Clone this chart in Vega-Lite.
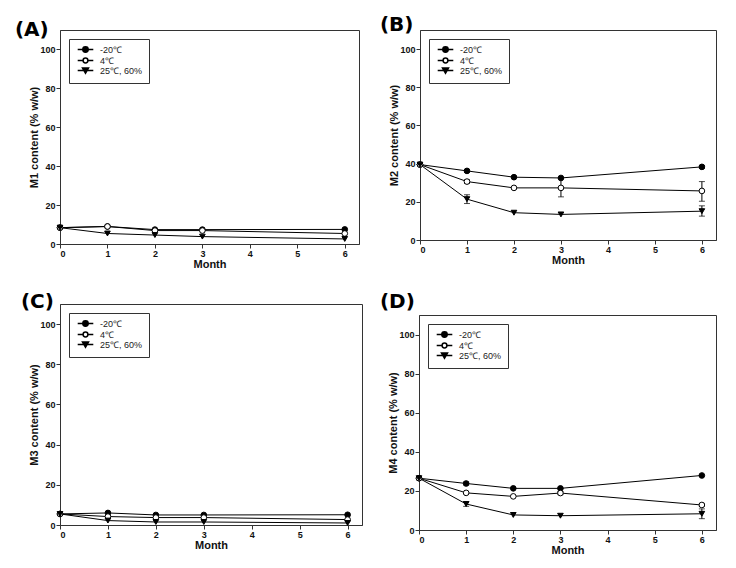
{
  "$schema": "https://vega.github.io/schema/vega-lite/v6.json",
  "padding": {"left": 14, "top": 14, "right": 4, "bottom": 4},
  "background": "white",
  "datasets": {
    "d": [
      {"panel": "A", "cond": "-20℃", "month": 0, "value": 8.4},
      {"panel": "A", "cond": "-20℃", "month": 1, "value": 9.0},
      {"panel": "A", "cond": "-20℃", "month": 2, "value": 7.4},
      {"panel": "A", "cond": "-20℃", "month": 3, "value": 7.4},
      {"panel": "A", "cond": "-20℃", "month": 6, "value": 7.5},
      {"panel": "A", "cond": "4℃", "month": 0, "value": 8.4},
      {"panel": "A", "cond": "4℃", "month": 1, "value": 9.0},
      {"panel": "A", "cond": "4℃", "month": 2, "value": 6.9},
      {"panel": "A", "cond": "4℃", "month": 3, "value": 6.9},
      {"panel": "A", "cond": "4℃", "month": 6, "value": 5.4},
      {"panel": "A", "cond": "25℃, 60%", "month": 0, "value": 8.4},
      {"panel": "A", "cond": "25℃, 60%", "month": 1, "value": 5.4},
      {"panel": "A", "cond": "25℃, 60%", "month": 2, "value": 4.6},
      {"panel": "A", "cond": "25℃, 60%", "month": 3, "value": 3.8},
      {"panel": "A", "cond": "25℃, 60%", "month": 6, "value": 2.6},
      {"panel": "B", "cond": "-20℃", "month": 0, "value": 39.5},
      {"panel": "B", "cond": "-20℃", "month": 1, "value": 36.2, "lo": 35.5, "hi": 36.9},
      {"panel": "B", "cond": "-20℃", "month": 2, "value": 32.9},
      {"panel": "B", "cond": "-20℃", "month": 3, "value": 32.5},
      {"panel": "B", "cond": "-20℃", "month": 6, "value": 38.3, "lo": 37.6, "hi": 39.0},
      {"panel": "B", "cond": "4℃", "month": 0, "value": 39.5},
      {"panel": "B", "cond": "4℃", "month": 1, "value": 30.6, "lo": 29.6, "hi": 31.6},
      {"panel": "B", "cond": "4℃", "month": 2, "value": 27.3},
      {"panel": "B", "cond": "4℃", "month": 3, "value": 27.3, "lo": 22.6, "hi": 32.3},
      {"panel": "B", "cond": "4℃", "month": 6, "value": 25.7, "lo": 20.3, "hi": 30.6},
      {"panel": "B", "cond": "25℃, 60%", "month": 0, "value": 39.5},
      {"panel": "B", "cond": "25℃, 60%", "month": 1, "value": 21.4, "lo": 19.1, "hi": 23.7},
      {"panel": "B", "cond": "25℃, 60%", "month": 2, "value": 14.3},
      {"panel": "B", "cond": "25℃, 60%", "month": 3, "value": 13.4},
      {"panel": "B", "cond": "25℃, 60%", "month": 6, "value": 15.1, "lo": 12.5, "hi": 17.9},
      {"panel": "C", "cond": "-20℃", "month": 0, "value": 5.5},
      {"panel": "C", "cond": "-20℃", "month": 1, "value": 6.0},
      {"panel": "C", "cond": "-20℃", "month": 2, "value": 5.0},
      {"panel": "C", "cond": "-20℃", "month": 3, "value": 5.0},
      {"panel": "C", "cond": "-20℃", "month": 6, "value": 5.1},
      {"panel": "C", "cond": "4℃", "month": 0, "value": 5.5},
      {"panel": "C", "cond": "4℃", "month": 1, "value": 4.2},
      {"panel": "C", "cond": "4℃", "month": 2, "value": 3.7},
      {"panel": "C", "cond": "4℃", "month": 3, "value": 3.7},
      {"panel": "C", "cond": "4℃", "month": 6, "value": 2.7},
      {"panel": "C", "cond": "25℃, 60%", "month": 0, "value": 5.5},
      {"panel": "C", "cond": "25℃, 60%", "month": 1, "value": 2.2},
      {"panel": "C", "cond": "25℃, 60%", "month": 2, "value": 1.5},
      {"panel": "C", "cond": "25℃, 60%", "month": 3, "value": 1.5},
      {"panel": "C", "cond": "25℃, 60%", "month": 6, "value": 1.0},
      {"panel": "D", "cond": "-20℃", "month": 0, "value": 26.5},
      {"panel": "D", "cond": "-20℃", "month": 1, "value": 23.8, "lo": 23.0, "hi": 24.6},
      {"panel": "D", "cond": "-20℃", "month": 2, "value": 21.3},
      {"panel": "D", "cond": "-20℃", "month": 3, "value": 21.3},
      {"panel": "D", "cond": "-20℃", "month": 6, "value": 27.9},
      {"panel": "D", "cond": "4℃", "month": 0, "value": 26.5},
      {"panel": "D", "cond": "4℃", "month": 1, "value": 19.0},
      {"panel": "D", "cond": "4℃", "month": 2, "value": 17.2},
      {"panel": "D", "cond": "4℃", "month": 3, "value": 18.9, "lo": 18.1, "hi": 19.7},
      {"panel": "D", "cond": "4℃", "month": 6, "value": 12.8, "lo": 12.0, "hi": 13.6},
      {"panel": "D", "cond": "25℃, 60%", "month": 0, "value": 26.5},
      {"panel": "D", "cond": "25℃, 60%", "month": 1, "value": 13.3, "lo": 12.1, "hi": 14.5},
      {"panel": "D", "cond": "25℃, 60%", "month": 2, "value": 7.7},
      {"panel": "D", "cond": "25℃, 60%", "month": 3, "value": 7.3},
      {"panel": "D", "cond": "25℃, 60%", "month": 6, "value": 8.3, "lo": 5.8, "hi": 10.8}
    ]
  },
  "data": {"name": "d"},
  "columns": 2,
  "align": "none",
  "spacing": {"row": 21, "column": 16},
  "resolve": {"scale": {"shape": "independent", "fill": "independent"}, "legend": {"shape": "independent", "fill": "independent"}},
  "concat": [
    {
      "width": 299, "height": 214,
      "title": {"text": "(A)", "dx": -14, "offset": -10},
      "transform": [{"filter": "datum.panel == 'A'"}],
      "encoding": {"x": {"field": "month", "type": "quantitative", "title": "Month", "scale": {"domain": [0, 6.3], "nice": false}, "axis": {"values": [0, 1, 2, 3, 4, 5, 6]}}},
      "resolve": {"scale": {"shape": "independent", "fill": "independent"}},
      "layer": [
        {"mark": {"type": "line", "color": "black", "strokeWidth": 1}, "encoding": {"y": {"field": "value", "type": "quantitative", "title": "M1 content (% w/w)", "scale": {"domain": [0, 110], "nice": false}, "axis": {"values": [0, 20, 40, 60, 80, 100]}}, "detail": {"field": "cond"}}},
        {"mark": {"type": "point", "filled": true, "stroke": "black", "strokeWidth": 1, "opacity": 1, "size": 32},
         "encoding": {"y": {"field": "value", "type": "quantitative", "title": "M1 content (% w/w)"},
           "fill": {"condition": {"test": "datum.cond == '4℃'", "value": "white"}, "value": "black"},
           "shape": {"field": "cond", "type": "nominal", "scale": {"domain": ["-20℃", "4℃", "25℃, 60%"], "range": ["circle", "circle", "triangle-down"]}, "legend": null}}},
        {"mark": {"type": "point", "filled": true, "stroke": "black", "strokeWidth": 1, "size": 32},
         "encoding": {"y": {"field": "value", "type": "quantitative", "title": "M1 content (% w/w)"},
           "opacity": {"condition": {"test": "true", "value": 0}, "value": 1},
           "fill": {"field": "cond", "type": "nominal", "scale": {"domain": ["-20℃", "4℃", "25℃, 60%"], "range": ["black", "white", "black"]}, "legend": {"title": null}},
           "shape": {"field": "cond", "type": "nominal", "scale": {"domain": ["-20℃", "4℃", "25℃, 60%"], "range": ["M-2.6,0H2.6M-0.9,0A0.9,0.9 0 1,0 0.9,0A0.9,0.9 0 1,0 -0.9,0", "M-2.6,0H-0.8M0.8,0H2.6M-0.8,0A0.8,0.8 0 1,0 0.8,0A0.8,0.8 0 1,0 -0.8,0", "M-2.6,0H2.6M-1,-0.8H1L0,0.9Z"]}, "legend": {"title": null}}}}
      ]
    },
    {
      "width": 296, "height": 210,
      "title": {"text": "(B)", "dx": -9, "offset": -5},
      "transform": [{"filter": "datum.panel == 'B'"}],
      "encoding": {"x": {"field": "month", "type": "quantitative", "title": "Month", "scale": {"domain": [0, 6.3], "nice": false}, "axis": {"values": [0, 1, 2, 3, 4, 5, 6]}}},
      "resolve": {"scale": {"shape": "independent", "fill": "independent"}},
      "layer": [
        {"mark": {"type": "line", "color": "black", "strokeWidth": 1}, "encoding": {"y": {"field": "value", "type": "quantitative", "title": "M2 content (% w/w)", "scale": {"domain": [0, 110], "nice": false}, "axis": {"values": [0, 20, 40, 60, 80, 100]}}, "detail": {"field": "cond"}}},
        {"transform": [{"filter": "isValid(datum.lo)"}], "mark": {"type": "rule", "color": "black", "strokeWidth": 1}, "encoding": {"y": {"field": "lo", "type": "quantitative", "title": "M2 content (% w/w)"}, "y2": {"field": "hi"}}},
        {"transform": [{"filter": "isValid(datum.lo)"}], "mark": {"type": "tick", "orient": "horizontal", "color": "black", "thickness": 1}, "encoding": {"y": {"field": "lo", "type": "quantitative", "title": "M2 content (% w/w)"}, "size": {"value": 6}}},
        {"transform": [{"filter": "isValid(datum.lo)"}], "mark": {"type": "tick", "orient": "horizontal", "color": "black", "thickness": 1}, "encoding": {"y": {"field": "hi", "type": "quantitative", "title": "M2 content (% w/w)"}, "size": {"value": 6}}},
        {"mark": {"type": "point", "filled": true, "stroke": "black", "strokeWidth": 1, "opacity": 1, "size": 32},
         "encoding": {"y": {"field": "value", "type": "quantitative", "title": "M2 content (% w/w)"},
           "fill": {"condition": {"test": "datum.cond == '4℃'", "value": "white"}, "value": "black"},
           "shape": {"field": "cond", "type": "nominal", "scale": {"domain": ["-20℃", "4℃", "25℃, 60%"], "range": ["circle", "circle", "triangle-down"]}, "legend": null}}},
        {"mark": {"type": "point", "filled": true, "stroke": "black", "strokeWidth": 1, "size": 32},
         "encoding": {"y": {"field": "value", "type": "quantitative", "title": "M2 content (% w/w)"},
           "opacity": {"condition": {"test": "true", "value": 0}, "value": 1},
           "fill": {"field": "cond", "type": "nominal", "scale": {"domain": ["-20℃", "4℃", "25℃, 60%"], "range": ["black", "white", "black"]}, "legend": {"title": null}},
           "shape": {"field": "cond", "type": "nominal", "scale": {"domain": ["-20℃", "4℃", "25℃, 60%"], "range": ["M-2.6,0H2.6M-0.9,0A0.9,0.9 0 1,0 0.9,0A0.9,0.9 0 1,0 -0.9,0", "M-2.6,0H-0.8M0.8,0H2.6M-0.8,0A0.8,0.8 0 1,0 0.8,0A0.8,0.8 0 1,0 -0.8,0", "M-2.6,0H2.6M-1,-0.8H1L0,0.9Z"]}, "legend": {"title": null}}}}
      ]
    },
    {
      "width": 302, "height": 221,
      "title": {"text": "(C)", "dx": -8, "offset": -8},
      "transform": [{"filter": "datum.panel == 'C'"}],
      "encoding": {"x": {"field": "month", "type": "quantitative", "title": "Month", "scale": {"domain": [0, 6.3], "nice": false}, "axis": {"values": [0, 1, 2, 3, 4, 5, 6]}}},
      "resolve": {"scale": {"shape": "independent", "fill": "independent"}},
      "layer": [
        {"mark": {"type": "line", "color": "black", "strokeWidth": 1}, "encoding": {"y": {"field": "value", "type": "quantitative", "title": "M3 content (% w/w)", "scale": {"domain": [0, 110], "nice": false}, "axis": {"values": [0, 20, 40, 60, 80, 100]}}, "detail": {"field": "cond"}}},
        {"mark": {"type": "point", "filled": true, "stroke": "black", "strokeWidth": 1, "opacity": 1, "size": 32},
         "encoding": {"y": {"field": "value", "type": "quantitative", "title": "M3 content (% w/w)"},
           "fill": {"condition": {"test": "datum.cond == '4℃'", "value": "white"}, "value": "black"},
           "shape": {"field": "cond", "type": "nominal", "scale": {"domain": ["-20℃", "4℃", "25℃, 60%"], "range": ["circle", "circle", "triangle-down"]}, "legend": null}}},
        {"mark": {"type": "point", "filled": true, "stroke": "black", "strokeWidth": 1, "size": 32},
         "encoding": {"y": {"field": "value", "type": "quantitative", "title": "M3 content (% w/w)"},
           "opacity": {"condition": {"test": "true", "value": 0}, "value": 1},
           "fill": {"field": "cond", "type": "nominal", "scale": {"domain": ["-20℃", "4℃", "25℃, 60%"], "range": ["black", "white", "black"]}, "legend": {"title": null}},
           "shape": {"field": "cond", "type": "nominal", "scale": {"domain": ["-20℃", "4℃", "25℃, 60%"], "range": ["M-2.6,0H2.6M-0.9,0A0.9,0.9 0 1,0 0.9,0A0.9,0.9 0 1,0 -0.9,0", "M-2.6,0H-0.8M0.8,0H2.6M-0.8,0A0.8,0.8 0 1,0 0.8,0A0.8,0.8 0 1,0 -0.8,0", "M-2.6,0H2.6M-1,-0.8H1L0,0.9Z"]}, "legend": {"title": null}}}}
      ]
    },
    {
      "width": 297, "height": 215,
      "title": {"text": "(D)", "dx": -8, "offset": 3},
      "transform": [{"filter": "datum.panel == 'D'"}],
      "encoding": {"x": {"field": "month", "type": "quantitative", "title": "Month", "scale": {"domain": [0, 6.3], "nice": false}, "axis": {"values": [0, 1, 2, 3, 4, 5, 6]}}},
      "resolve": {"scale": {"shape": "independent", "fill": "independent"}},
      "layer": [
        {"mark": {"type": "line", "color": "black", "strokeWidth": 1}, "encoding": {"y": {"field": "value", "type": "quantitative", "title": "M4 content (% w/w)", "scale": {"domain": [0, 110], "nice": false}, "axis": {"values": [0, 20, 40, 60, 80, 100]}}, "detail": {"field": "cond"}}},
        {"transform": [{"filter": "isValid(datum.lo)"}], "mark": {"type": "rule", "color": "black", "strokeWidth": 1}, "encoding": {"y": {"field": "lo", "type": "quantitative", "title": "M4 content (% w/w)"}, "y2": {"field": "hi"}}},
        {"transform": [{"filter": "isValid(datum.lo)"}], "mark": {"type": "tick", "orient": "horizontal", "color": "black", "thickness": 1}, "encoding": {"y": {"field": "lo", "type": "quantitative", "title": "M4 content (% w/w)"}, "size": {"value": 6}}},
        {"transform": [{"filter": "isValid(datum.lo)"}], "mark": {"type": "tick", "orient": "horizontal", "color": "black", "thickness": 1}, "encoding": {"y": {"field": "hi", "type": "quantitative", "title": "M4 content (% w/w)"}, "size": {"value": 6}}},
        {"mark": {"type": "point", "filled": true, "stroke": "black", "strokeWidth": 1, "opacity": 1, "size": 32},
         "encoding": {"y": {"field": "value", "type": "quantitative", "title": "M4 content (% w/w)"},
           "fill": {"condition": {"test": "datum.cond == '4℃'", "value": "white"}, "value": "black"},
           "shape": {"field": "cond", "type": "nominal", "scale": {"domain": ["-20℃", "4℃", "25℃, 60%"], "range": ["circle", "circle", "triangle-down"]}, "legend": null}}},
        {"mark": {"type": "point", "filled": true, "stroke": "black", "strokeWidth": 1, "size": 32},
         "encoding": {"y": {"field": "value", "type": "quantitative", "title": "M4 content (% w/w)"},
           "opacity": {"condition": {"test": "true", "value": 0}, "value": 1},
           "fill": {"field": "cond", "type": "nominal", "scale": {"domain": ["-20℃", "4℃", "25℃, 60%"], "range": ["black", "white", "black"]}, "legend": {"title": null}},
           "shape": {"field": "cond", "type": "nominal", "scale": {"domain": ["-20℃", "4℃", "25℃, 60%"], "range": ["M-2.6,0H2.6M-0.9,0A0.9,0.9 0 1,0 0.9,0A0.9,0.9 0 1,0 -0.9,0", "M-2.6,0H-0.8M0.8,0H2.6M-0.8,0A0.8,0.8 0 1,0 0.8,0A0.8,0.8 0 1,0 -0.8,0", "M-2.6,0H2.6M-1,-0.8H1L0,0.9Z"]}, "legend": {"title": null}}}}
      ]
    }
  ],
  "config": {
    "view": {"stroke": "#333", "strokeWidth": 1},
    "axis": {"grid": false, "labelFont": "Liberation Sans", "labelFontWeight": "bold", "labelFontSize": 9, "labelColor": "#111", "titleFont": "Liberation Sans", "titleFontWeight": "bold", "titleFontSize": 11, "titleColor": "#111", "tickColor": "#333", "domainColor": "#333", "tickSize": 4, "labelPadding": 1, "titlePadding": 0},
    "title": {"font": "DejaVu Sans", "fontSize": 20, "fontWeight": "bold", "anchor": "start", "color": "black"},
    "legend": {"orient": "top-left", "offset": 9, "strokeColor": "#333", "fillColor": "white", "padding": 6, "symbolOffset": 6, "labelFont": "Liberation Sans", "labelFontSize": 9, "labelColor": "#222", "symbolSize": 36, "rowPadding": -4, "labelOffset": 10, "cornerRadius": 0}
  }
}
